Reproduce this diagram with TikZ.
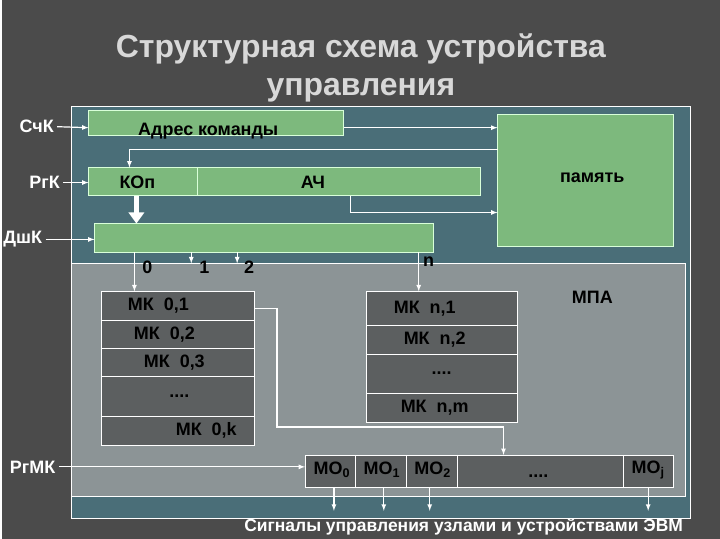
\documentclass[tikz,border=0pt]{standalone}
\usepackage{fontspec}
\setmainfont{Liberation Sans}
\begin{document}
\begin{tikzpicture}[x=1pt,y=-1pt,
 grn/.style={draw=white!85!green,fill=gbox,line width=1pt},
 mk/.style={draw=white!90,fill=mkc,line width=0.8pt},
 lbl/.style={font=\bfseries\fontsize{18}{20}\selectfont},
 wl/.style={lbl,text=white},
 ar/.style={draw=white,line width=1.2pt,-latex},
 ln/.style={draw=white,line width=1.2pt}]
\definecolor{bg}{HTML}{4B4B4B}
\definecolor{teal}{HTML}{4A6E78}
\definecolor{mpa}{HTML}{8C9496}
\definecolor{gbox}{HTML}{7DB97D}
\definecolor{mkc}{HTML}{5C5F60}
\definecolor{ttl}{HTML}{D8D8D8}
\fill[bg] (0,0) rectangle (720,540);
\node[font=\bfseries\fontsize{32}{38}\selectfont,text=ttl,align=center] (title) at (360,68) {Структурная схема устройства\\управления};
\draw[white,fill=teal,line width=1pt] (70,107) rectangle (690,520);
\draw[white,fill=mpa,line width=1pt] (70,264) rectangle (685,498);
\path[grn] (87,111) rectangle (343,136); \node[lbl] (addr) at (207,132) {Адрес команды};
\path[grn] (497,115) rectangle (673,247); \node[lbl] (mem) at (592,178) {память};
\path[grn] (87,168) rectangle (196,196); \node[lbl] (kop) at (136,183) {КОп};
\path[grn] (196,168) rectangle (480,196); \node[lbl] (ach) at (312,183) {АЧ};
\path[grn] (93,224) rectangle (433,253); \node (dsh) at (263,238) {};
\node[wl] (sck) at (35,127) {СчК};
\node[wl] (rgk) at (43,183) {РгК};
\node[wl] (dshk) at (21,240) {ДшК};
\node[wl] (rgmk) at (31,468) {РгМК};
\draw[ar] (sck.east) -- (87,128);
\draw[ar] (343,128) -- (497,128);
\draw[ar] (497,150) -- (128,150) -- (128,168);
\draw[ar] (rgk.east) -- (87,183);
\draw[ar] (350,196) -- (350,213) -- (497,213);
\draw[white,line width=5pt] (135,196) -- (135,214);
\fill[white] (127,213) -- (143,213) -- (135,224) -- cycle;
\draw[ar] (dshk.east) -- (93,240);
% MK columns
\foreach \a/\b/\t/\xx in {292/321/{МК~~0,1}/157,321/349/{МК~~0,2}/163,349/377/{МК~~0,3}/173,377/417/{....}/178,417/446/{МК~~0,k}/205}
 {\path[mk] (100,\a) rectangle (253,\b); \node[lbl] at (\xx,{(\a+\b)/2}) {\t};}
\foreach \a/\b/\t/\xx in {292/326/{МК~~n,1}/424,326/355/{МК~~n,2}/434,355/394/{....}/441,394/423/{МК~~n,m}/434}
 {\path[mk] (366,\a) rectangle (517,\b); \node[lbl] at (\xx,{(\a+\b)/2}) {\t};}
\node[lbl] (mpalbl) at (592,298) {МПА};
\draw[ar] (133,253) -- (133,292);
\draw[ar] (190,253) -- (190,264);
\draw[ar] (236,253) -- (236,264);
\draw[ar] (418,253) -- (418,292);
\node[lbl] at (146,268) {0};
\node[lbl] at (203,268) {1};
\node[lbl] at (248,268) {2};
\node[lbl] at (428,262) {n};
% MO register
\path[mk] (304,456) rectangle (673,489);
\foreach \x in {355,406,457,623} \draw[white,line width=0.8pt] (\x,456) -- (\x,489);
\node[lbl] (mo0) at (331,471) {МО\textsubscript{0}};
\node[lbl] (mo1) at (381,471) {МО\textsubscript{1}};
\node[lbl] (mo2) at (432,471) {МО\textsubscript{2}};
\node[lbl] at (538,477) {....};
\node[lbl] (moj) at (648,471) {МО\textsubscript{j}};
\draw[ar] (253,309) -- (276,309) -- (276,428) -- (503,428) -- (503,456);
\draw[ar] (rgmk.east) -- (304,468);
\foreach \x in {333,383,429,648} \draw[ar] (\x,489) -- (\x,512);
\node[text=white,font=\bfseries\fontsize{17.5}{19}\selectfont] (cap) at (463,528) {Сигналы управления узлами и устройствами ЭВМ};
\end{tikzpicture}
\end{document}
